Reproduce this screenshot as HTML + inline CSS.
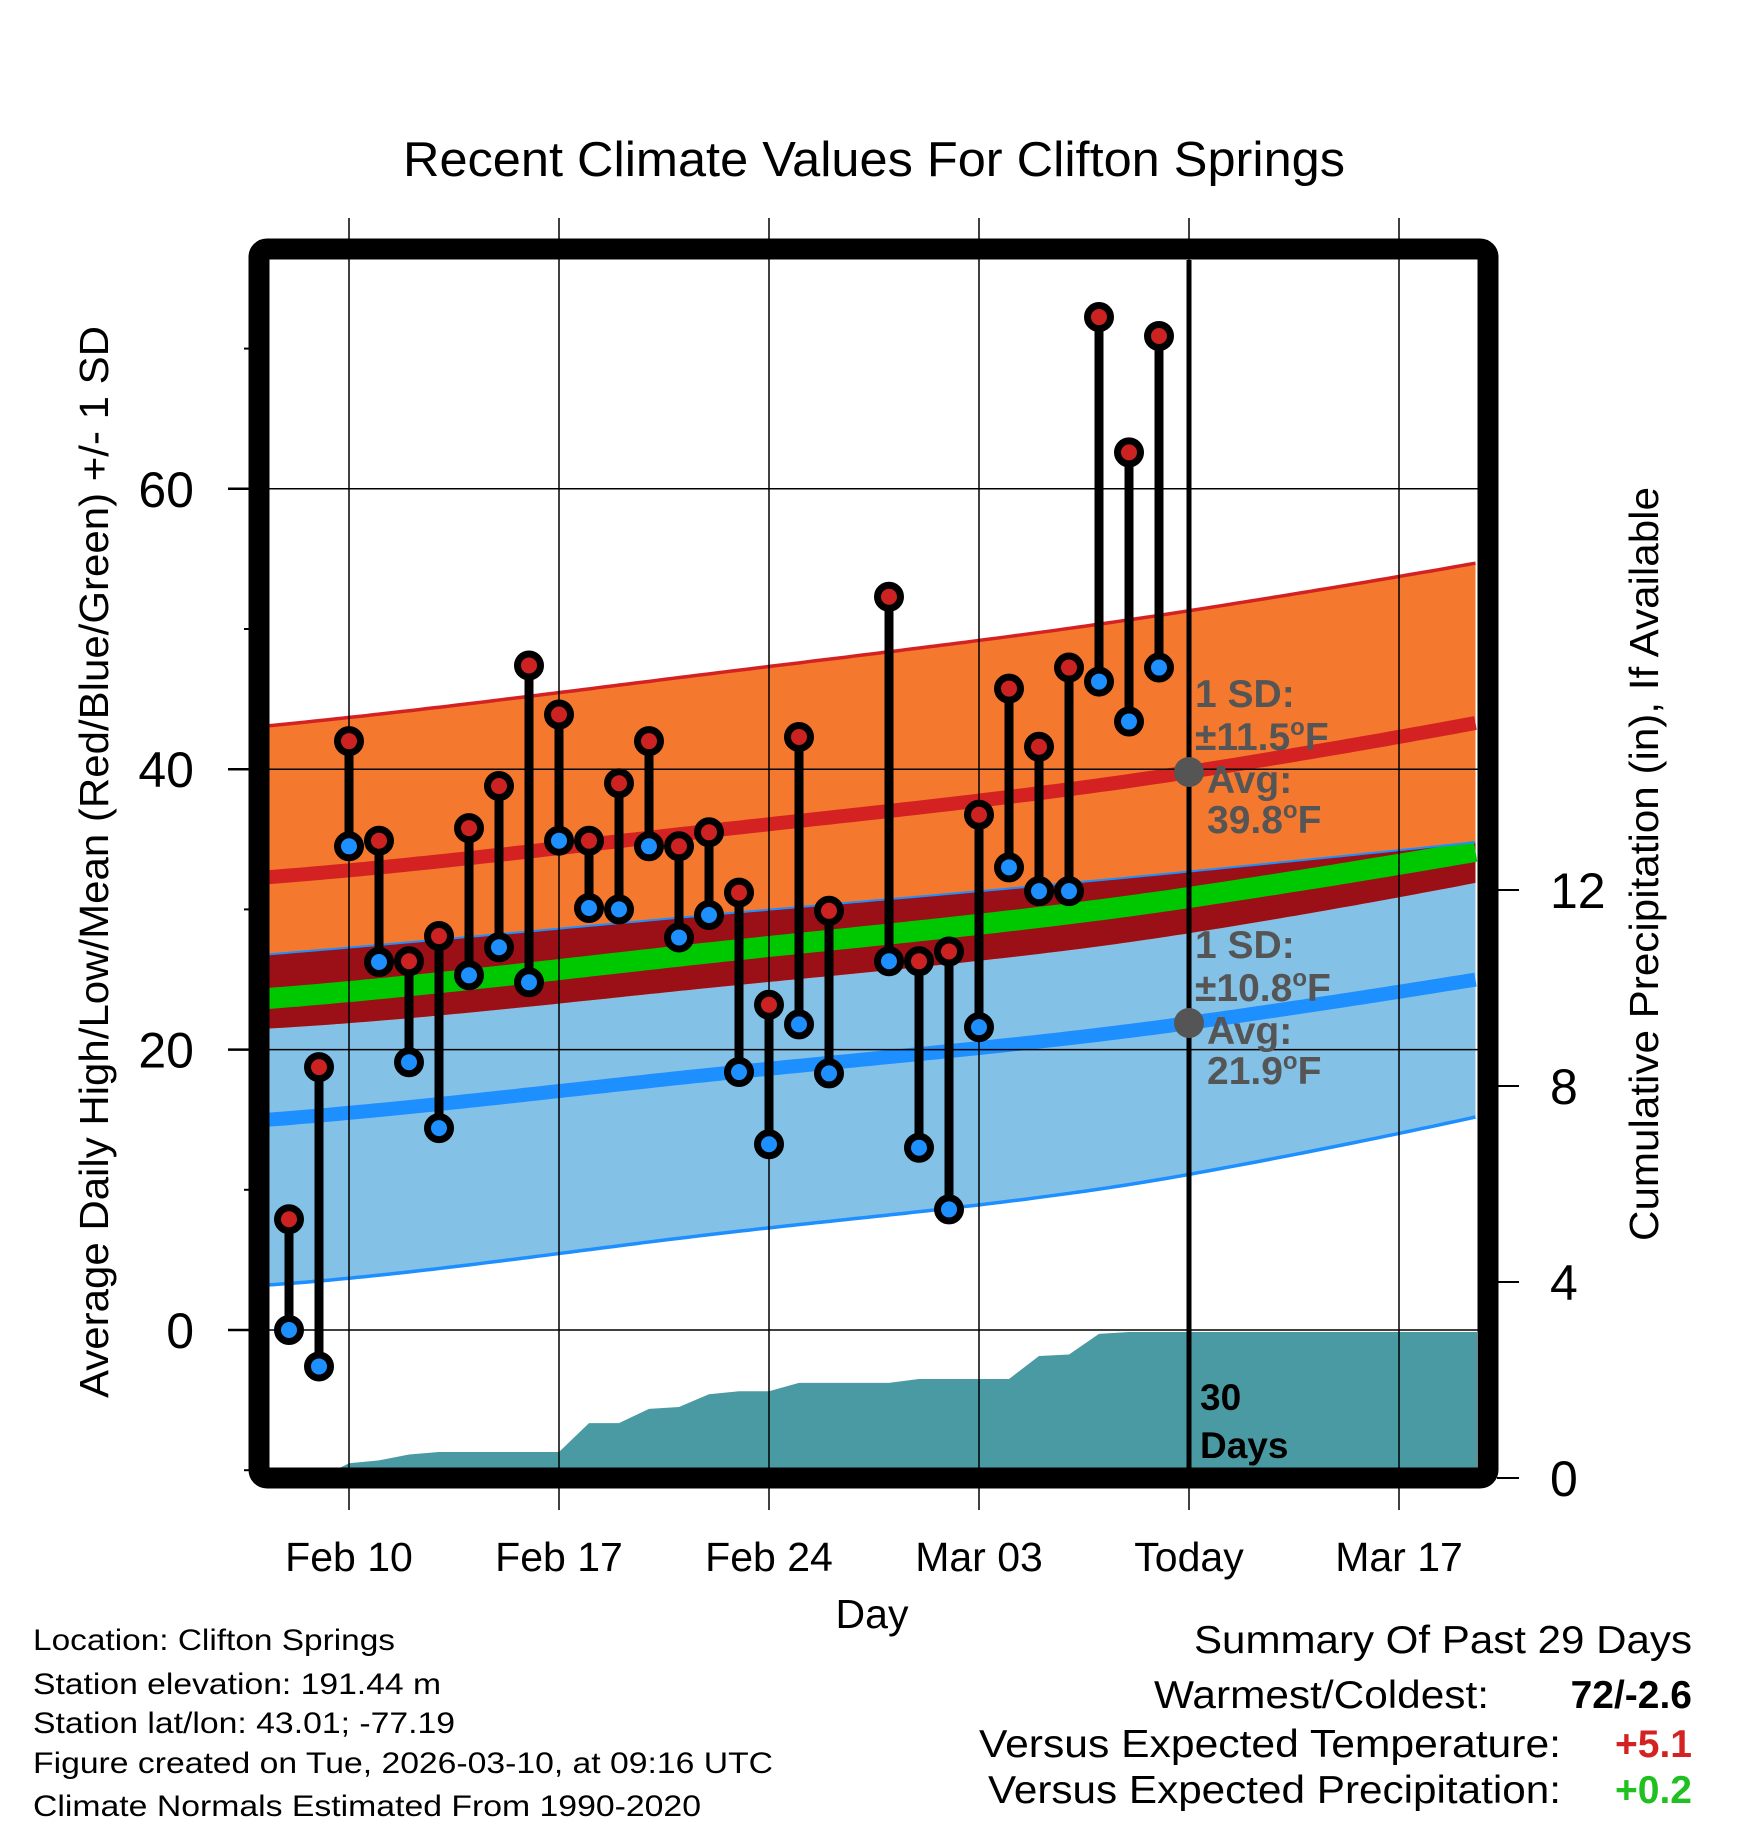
<!DOCTYPE html>
<html><head><meta charset="utf-8"><style>
html,body{margin:0;padding:0;background:#fff;}
svg{display:block;font-family:"Liberation Sans",Arial,sans-serif;}
</style></head><body>
<svg id="chart" width="1748" height="1828" viewBox="0 0 1748 1828" xmlns="http://www.w3.org/2000/svg">
<rect x="0" y="0" width="1748" height="1828" fill="#fff"/>
<defs><clipPath id="plotclip"><rect x="269" y="260" width="1209" height="1208"/></clipPath></defs>
<text x="403" y="176" font-size="49" textLength="942" lengthAdjust="spacingAndGlyphs">Recent Climate Values For Clifton Springs</text>
<g id="plot" clip-path="url(#plotclip)"></g>
<g id="over"></g>
<text transform="translate(108,862) rotate(-90)" text-anchor="middle" font-size="41" textLength="1072" lengthAdjust="spacingAndGlyphs">Average Daily High/Low/Mean (Red/Blue/Green) +/- 1 SD</text>
<text transform="translate(1658,864) rotate(-90)" text-anchor="middle" font-size="41" textLength="754" lengthAdjust="spacingAndGlyphs">Cumulative Precipitation (in), If Available</text>
<text x="872" y="1628" text-anchor="middle" font-size="41">Day</text>
<g font-size="30">
<text x="33" y="1650" textLength="362" lengthAdjust="spacingAndGlyphs">Location: Clifton Springs</text>
<text x="33" y="1694" textLength="408" lengthAdjust="spacingAndGlyphs">Station elevation: 191.44 m</text>
<text x="33" y="1733" textLength="422" lengthAdjust="spacingAndGlyphs">Station lat/lon: 43.01; -77.19</text>
<text x="33" y="1773" textLength="740" lengthAdjust="spacingAndGlyphs">Figure created on Tue, 2026-03-10, at 09:16 UTC</text>
<text x="33" y="1816" textLength="668" lengthAdjust="spacingAndGlyphs">Climate Normals Estimated From 1990-2020</text>
</g>
<g font-size="39">
<text x="1692" y="1653" text-anchor="end" textLength="498" lengthAdjust="spacingAndGlyphs">Summary Of Past 29 Days</text>
<text x="1489" y="1708" text-anchor="end" textLength="335" lengthAdjust="spacingAndGlyphs">Warmest/Coldest:</text>
<text x="1692" y="1708" text-anchor="end" font-weight="bold">72/-2.6</text>
<text x="1561" y="1757" text-anchor="end" textLength="582" lengthAdjust="spacingAndGlyphs">Versus Expected Temperature:</text>
<text x="1692" y="1757" text-anchor="end" font-weight="bold" fill="#d42222">+5.1</text>
<text x="1561" y="1803" text-anchor="end" textLength="573" lengthAdjust="spacingAndGlyphs">Versus Expected Precipitation:</text>
<text x="1692" y="1803" text-anchor="end" font-weight="bold" fill="#1fc01f">+0.2</text>
</g>
</svg>
<script>
// ---- data ----
const dayOffsets = [-2,-1,0,1,2,3,4,5,6,7,8,9,10,11,12,13,14,15,16,17,18,19,20,21,22,23,24,25,26,27];
const highs = [7.9,18.75,42,34.9,26.3,28.1,35.8,38.8,47.4,43.9,34.9,39,42,34.5,35.5,31.2,23.2,42.3,29.9,null,52.3,26.3,27,36.75,45.75,41.6,47.25,72.25,62.6,70.9];
const lows = [0,-2.6,34.5,26.25,19.1,14.4,25.3,27.3,24.8,34.9,30.1,30,34.5,28,29.6,18.4,13.25,21.8,18.3,null,26.3,13,8.6,21.6,33,31.3,31.3,46.25,43.4,47.25];
const precipDays = [-2,-1,0,1,2,3,4,5,6,7,8,9,10,11,12,13,14,15,16,17,18,19,20,21,22,23,24,25,26,27,28,37.6];
const precipCum = [0,0,0.3,0.36,0.48,0.53,0.53,0.53,0.53,0.53,1.12,1.12,1.41,1.45,1.71,1.77,1.77,1.94,1.94,1.94,1.94,2.02,2.02,2.02,2.02,2.49,2.52,2.94,2.98,2.98,2.98,2.98];
const normDays = [-2.63,12,28,37.57];
const highMean = [32.3,35.6,39.8,43.3];
const highSD = [10.8,11.2,11.5,11.4];
const lowMean = [15.0,18.2,21.9,25.0];
const lowSD = [11.8,11.4,10.8,9.8];
const xTickDays = [0,7,14,21,28,35];
const xTickLabels = ["Feb 10","Feb 17","Feb 24","Mar 03","Today","Mar 17"];
const yTicks = [0,20,40,60];
const yMinorTicks = [-10,10,30,50,70];
const y2Ticks = [0,4,8,12];
const todayDay = 28;
const todayHighAvg = 39.8, todayHighSD = 11.5, todayLowAvg = 21.9, todayLowSD = 10.8;

// ---- scales ----
const X = d => 349 + 30*d;
const Y = v => 1330 - 14.02*v;
const Y2 = p => 1478 - 49*p;
const NS = "http://www.w3.org/2000/svg";
const plot = document.getElementById('plot');
const over = document.getElementById('over');
const svg = document.getElementById('chart');
function mk(tag, attrs, parent){ const e=document.createElementNS(NS,tag); for(const k in attrs) e.setAttribute(k,attrs[k]); (parent||plot).appendChild(e); return e; }

// smooth quadratic fit through first, third and last normals points (Lagrange over 3 anchors)
function interp(arr, d){
  const xs=[normDays[0],normDays[2],normDays[3]], ys=[arr[0],arr[2],arr[3]];
  let s=0;
  for(let i=0;i<3;i++){ let t=ys[i]; for(let j=0;j<3;j++) if(j!==i) t*=(d-xs[j])/(xs[i]-xs[j]); s+=t; }
  // blend with mid-point correction
  const xm=normDays[1], ym=arr[1];
  let base=0; for(let i=0;i<3;i++){ let t=ys[i]; for(let j=0;j<3;j++) if(j!==i) t*=(xm-xs[j])/(xs[i]-xs[j]); base+=t; }
  const w=Math.max(0,1-Math.abs(d-xm)/16);
  return s+(ym-base)*w*w*(3-2*w);
}
const samp=[]; for(let d=-2.7; d<=37.7; d+=0.25) samp.push(d);
const fn = {
  hm:d=>interp(highMean,d), hs:d=>interp(highSD,d), lm:d=>interp(lowMean,d), ls:d=>interp(lowSD,d)
};
const hUp=d=>fn.hm(d)+fn.hs(d), hLo=d=>fn.hm(d)-fn.hs(d), lUp=d=>fn.lm(d)+fn.ls(d), lLo=d=>fn.lm(d)-fn.ls(d);
function line(f){ return samp.map((d,i)=>(i?'L':'M')+X(d).toFixed(1)+','+Y(f(d)).toFixed(1)).join(''); }
function band(f1,f2){ return line(f1)+samp.slice().reverse().map(d=>'L'+X(d).toFixed(1)+','+Y(f2(d)).toFixed(1)).join('')+'Z'; }

let e;
e=mk('path',{d:band(lUp,lLo),fill:'#83c1e7'});
 
e=mk('path',{d:band(hUp,hLo),fill:'#f4792e'});
 
e=mk('path',{d:band(lUp,hLo),fill:'#9a1016'});
 
e=mk('path',{d:line(d=>(fn.hm(d)+fn.lm(d))/2),fill:'none',stroke:'#00c800','stroke-width':21});
 
e=mk('path',{d:line(hUp),fill:'none',stroke:'#d42222','stroke-width':3.5});
 
e=mk('path',{d:line(fn.hm),fill:'none',stroke:'#d42222','stroke-width':14});
 
e=mk('path',{d:line(lUp),fill:'none',stroke:'#1e8fff','stroke-width':2});
 
e=mk('path',{d:line(fn.lm),fill:'none',stroke:'#1e8fff','stroke-width':14});
 
e=mk('path',{d:line(lLo),fill:'none',stroke:'#1e8fff','stroke-width':3.5});
 

// precipitation area
let pd='M'+X(precipDays[0])+','+Y2(0);
precipDays.forEach((d,i)=>{ pd+='L'+X(d).toFixed(1)+','+Y2(precipCum[i]).toFixed(1); });
pd+='L'+X(precipDays[precipDays.length-1])+','+Y2(0)+'Z';
e=mk('path',{d:pd,fill:'#4a9aa4'});
 

// grid
yTicks.forEach(v=>{
  e=mk('line',{x1:269,x2:1478,y1:Y(v),y2:Y(v),stroke:'#000','stroke-width':1.5});
   
});
xTickDays.forEach(d=>{
  e=mk('line',{x1:X(d),x2:X(d),y1:218,y2:1510,stroke:'#000','stroke-width':1.5},over);
   
});

// today line
e=mk('line',{x1:X(todayDay),x2:X(todayDay),y1:260,y2:1468,stroke:'#000','stroke-width':5},over);
 

// stems and markers
dayOffsets.forEach((d,i)=>{
  if(highs[i]==null) return;
  const s=mk('line',{x1:X(d),x2:X(d),y1:Y(highs[i]),y2:Y(lows[i]),stroke:'#000','stroke-width':9},over);
   
});
dayOffsets.forEach((d,i)=>{
  if(highs[i]==null) return;
  const h=mk('circle',{cx:X(d),cy:Y(highs[i]),r:11.5,fill:'#cc2222',stroke:'#000','stroke-width':7},over);
   
  const l=mk('circle',{cx:X(d),cy:Y(lows[i]),r:11.5,fill:'#1e8fff',stroke:'#000','stroke-width':7},over);
   
});

// today annotations
function annot(avg, sd, name){
  const cy=Y(avg), x0=X(todayDay);
  const dot=mk('circle',{cx:x0,cy:cy,r:15,fill:'#555'},over);
   
  const g=mk('g',{fill:'#555','font-weight':'bold','font-size':39},over);
   
  g.innerHTML='<text x="'+(x0+6)+'" y="'+(cy-65)+'">1 SD:</text>'+
    '<text x="'+(x0+6)+'" y="'+(cy-22)+'">±'+sd.toFixed(1)+'<tspan dy="-15" font-size="24">o</tspan><tspan dy="15">F</tspan></text>'+
    '<text x="'+(x0+18)+'" y="'+(cy+21)+'">Avg:</text>'+
    '<text x="'+(x0+18)+'" y="'+(cy+61)+'">'+avg.toFixed(1)+'<tspan dy="-15" font-size="24">o</tspan><tspan dy="15">F</tspan></text>';
}
annot(todayHighAvg,todayHighSD,'high');
annot(todayLowAvg,todayLowSD,'low');
e=mk('text',{x:1200,y:1410,'font-size':37,'font-weight':'bold'},over); e.textContent='30';
 
e=mk('text',{x:1200,y:1458,'font-size':37,'font-weight':'bold'},over); e.textContent='Days';
 

// frame
e=mk('rect',{x:259,y:249,width:1229,height:1229,rx:8,fill:'none',stroke:'#000','stroke-width':21},over);
 

// axes ticks & labels
yTicks.forEach(v=>{
  e=mk('line',{x1:228,x2:250,y1:Y(v),y2:Y(v),stroke:'#000','stroke-width':2.5},svg);
   
  e=mk('text',{x:194,y:Y(v)+18,'text-anchor':'end','font-size':50},svg); e.textContent=String(v);
   
});
yMinorTicks.forEach(v=>{
  e=mk('line',{x1:244,x2:250,y1:Y(v),y2:Y(v),stroke:'#000','stroke-width':2},svg);
   
});
y2Ticks.forEach(p=>{
  e=mk('line',{x1:1497,x2:1519,y1:Y2(p),y2:Y2(p),stroke:'#000','stroke-width':2},svg);
   
  e=mk('text',{x:1550,y:Y2(p)+18,'font-size':50},svg); e.textContent=String(p);
   
});
xTickDays.forEach((d,i)=>{
  e=mk('text',{x:X(d),y:1571,'text-anchor':'middle','font-size':41},svg); e.textContent=xTickLabels[i];
   
});
</script>
</body></html>
